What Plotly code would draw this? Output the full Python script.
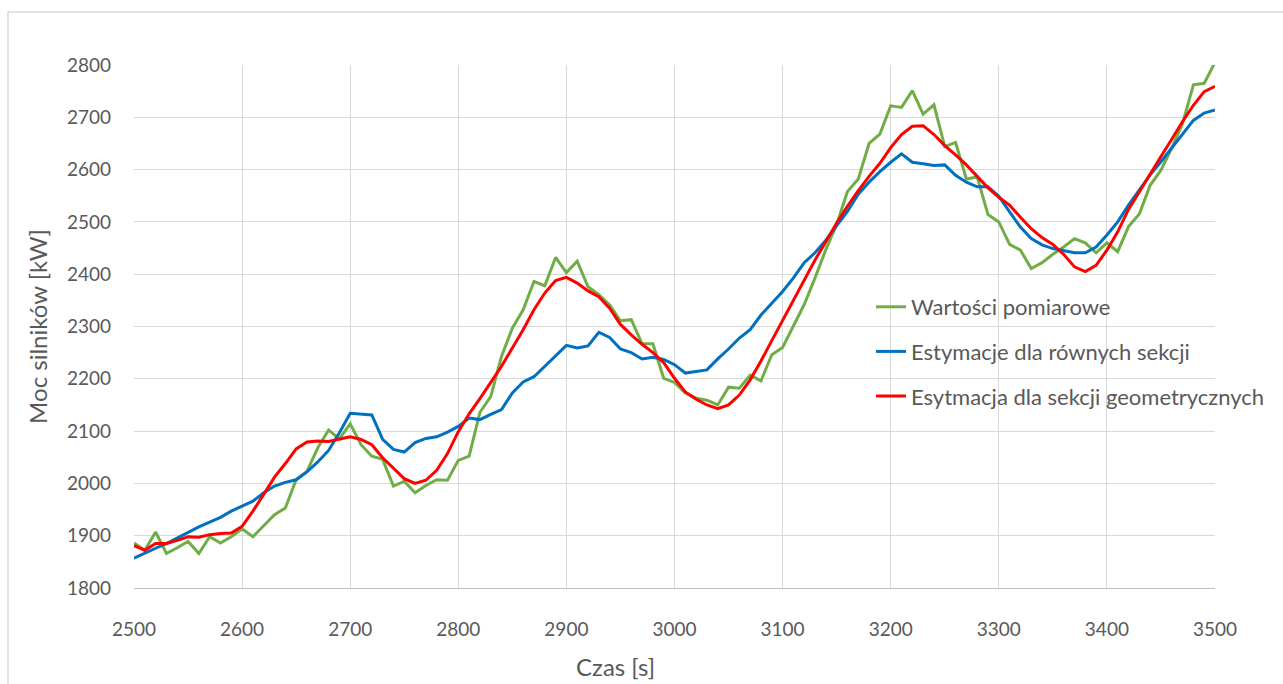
import plotly.graph_objects as go

# Time axis [s], sampled every 10 s
czas = list(range(2500, 3501, 10))

# Measured engine power [kW]
wartosci_pomiarowe = [
    1886, 1872, 1907, 1866, 1877, 1889, 1866, 1898, 1886, 1898,
    1913, 1898, 1919, 1940, 1953, 2007, 2023, 2068, 2102, 2085,
    2114, 2074, 2052, 2046, 1995, 2004, 1982, 1996, 2007, 2006,
    2044, 2052, 2136, 2166, 2243, 2297, 2332, 2386, 2378, 2432,
    2403, 2425, 2376, 2361, 2341, 2311, 2313, 2267, 2267, 2201,
    2193, 2173, 2163, 2159, 2150, 2184, 2182, 2207, 2196, 2246,
    2260, 2300, 2342, 2393, 2447, 2495, 2558, 2582, 2650, 2668,
    2722, 2719, 2751, 2706, 2724, 2644, 2652, 2582, 2586, 2514,
    2500, 2457, 2446, 2411, 2422, 2438, 2452, 2468, 2460, 2441,
    2460, 2443, 2491, 2515, 2570, 2599, 2641, 2688, 2762, 2765,
    2805,
]

# Estimate for equal sections [kW]
estymacje_rowne = [
    1857, 1867, 1876, 1885, 1896, 1907, 1917, 1926, 1935, 1947,
    1957, 1966, 1982, 1995, 2002, 2007, 2022, 2041, 2063, 2097,
    2134, 2133, 2131, 2084, 2065, 2060, 2078, 2086, 2089, 2098,
    2109, 2125, 2122, 2132, 2141, 2173, 2194, 2204, 2224, 2244,
    2264, 2259, 2263, 2289, 2279, 2257, 2250, 2238, 2241, 2237,
    2227, 2211, 2214, 2217, 2238, 2257, 2278, 2294, 2322, 2345,
    2367, 2393, 2422, 2441, 2465, 2493, 2520, 2553, 2576, 2596,
    2614, 2630, 2614, 2611, 2608, 2609, 2589, 2576, 2567, 2567,
    2549, 2519, 2490, 2468, 2456, 2449, 2445, 2441, 2441, 2452,
    2475, 2500, 2532, 2561, 2590, 2615, 2641, 2666, 2694, 2708,
    2714,
]

# Estimate for geometric sections [kW]
estymacja_geometryczne = [
    1881, 1872, 1885, 1885, 1891, 1898, 1897, 1902, 1904, 1905,
    1918, 1947, 1979, 2012, 2038, 2066, 2079, 2081, 2080, 2084,
    2089, 2084, 2074, 2049, 2028, 2009, 2000, 2006, 2025, 2057,
    2099, 2133, 2162, 2193, 2224, 2259, 2294, 2332, 2364, 2388,
    2394, 2383, 2368, 2357, 2335, 2304, 2284, 2266, 2250, 2231,
    2201, 2175, 2161, 2150, 2143, 2150, 2169, 2198, 2234, 2273,
    2312, 2351, 2389, 2427, 2462, 2498, 2530, 2560, 2587, 2612,
    2642, 2667, 2683, 2684, 2667, 2646, 2628, 2609, 2587, 2565,
    2547, 2532, 2509, 2487, 2470, 2457, 2438, 2414, 2405, 2417,
    2446, 2481, 2524, 2558, 2593, 2625, 2658, 2692, 2723, 2749,
    2759,
]

x_ticks = list(range(2500, 3501, 100))
y_ticks = list(range(1800, 2801, 100))

FONT = "Lato, 'Open Sans', sans-serif"
TEXT_GRAY = "#595959"
GRID = "#D9D9D9"

series = [
    ("Wartości pomiarowe", wartosci_pomiarowe, "#70AD47"),
    ("Estymacje dla równych sekcji", estymacje_rowne, "#0070C0"),
    ("Esytmacja dla sekcji geometrycznych", estymacja_geometryczne, "#FF0000"),
]

fig = go.Figure()
for i, (name, values, color) in enumerate(series):
    fig.add_trace(go.Scatter(
        x=czas, y=values, name=name, mode="lines",
        line=dict(color=color, width=3),
        legendgroup=f"g{i}",
    ))

# Plot area geometry in pixels
W, H = 1283, 684
L, R, T, B = 134, 68, 65, 96
pw, ph = W - L - R, H - T - B

def px_x(px):
    return (px - L) / pw

def px_y(py):
    return (H - B - py) / ph

fig.update_layout(
    width=W, height=H,
    margin=dict(l=L, r=R, t=T, b=B),
    paper_bgcolor="white",
    plot_bgcolor="white",
    font=dict(family=FONT, size=19, color=TEXT_GRAY),
    showlegend=True,
    legend=dict(
        x=px_x(871), y=px_y(286), xanchor="left", yanchor="top",
        bgcolor="rgba(0,0,0,0)",
        font=dict(family=FONT, size=22, color=TEXT_GRAY),
        tracegroupgap=13,
        itemwidth=30,
    ),
    xaxis=dict(
        range=[2500, 3500],
        tickmode="array", tickvals=x_ticks,
        ticktext=[str(v) for v in x_ticks],
        showgrid=True, gridcolor=GRID, gridwidth=1,
        showline=True, linecolor="#BFBFBF", linewidth=1,
        zeroline=False, ticks="", ticklabelstandoff=24,
    ),
    yaxis=dict(
        range=[1800, 2800],
        tickmode="array", tickvals=y_ticks,
        ticktext=[str(v) for v in y_ticks],
        showgrid=True, gridcolor=GRID, gridwidth=1,
        showline=False, zeroline=False, ticks="", ticklabelstandoff=22,
        title=dict(text="Moc silników [kW]", standoff=12,
                   font=dict(family=FONT, size=24, color=TEXT_GRAY)),
    ),
    annotations=[
        dict(text="Czas [s]", xref="paper", yref="paper",
             x=px_x(615), y=px_y(666), xanchor="center", yanchor="middle",
             showarrow=False,
             font=dict(family=FONT, size=24, color=TEXT_GRAY)),
    ],
    shapes=[
        dict(type="rect", xref="paper", yref="paper",
             x0=px_x(8), x1=px_x(1300), y0=px_y(720), y1=px_y(12),
             line=dict(color=GRID, width=1.5), fillcolor="rgba(0,0,0,0)",
             layer="below"),
    ],
)

fig.write_html("out.html")
